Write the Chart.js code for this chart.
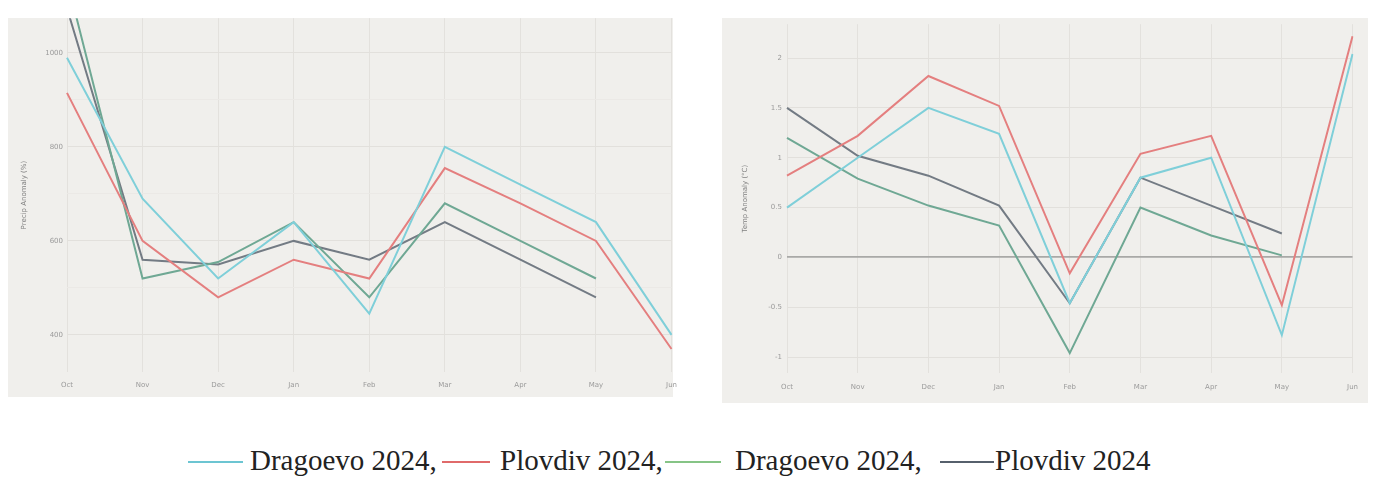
<!DOCTYPE html>
<html>
<head>
<meta charset="utf-8">
<script src="https://cdn.jsdelivr.net/npm/chart.js@4.4.1/dist/chart.umd.min.js"></script>
<style>
  body { margin: 0; background: #fff; width: 1379px; height: 477px; position: relative; overflow: hidden; }
  .panel { position: absolute; background: #f0efec; }
  .panel canvas { position: absolute; left: 0; }
  #left-panel { left: 8px; top: 18px; width: 665px; height: 379px; }
  #right-panel { left: 722px; top: 18px; width: 646px; height: 385px; }
  #precip-chart { top: -8px; }
  #temp-chart { top: -3px; }
  .legend { position: absolute; top: 442px; font-family: "Liberation Serif", serif; font-size: 29px; color: #222; white-space: nowrap; line-height: 36px; }
  .swatch { position: absolute; top: 461px; height: 2px; }
</style>
</head>
<body>
<div class="panel" id="left-panel"><canvas id="precip-chart" width="678" height="387"></canvas></div>
<div class="panel" id="right-panel"><canvas id="temp-chart" width="646" height="388"></canvas></div>

<div class="swatch" style="left:188px;width:55px;background:#6cc5d2"></div>
<div class="legend" style="left:250px">Dragoevo 2024,</div>
<div class="swatch" style="left:442px;width:48px;background:#e06a6a"></div>
<div class="legend" style="left:500px">Plovdiv 2024,</div>
<div class="swatch" style="left:665px;width:56px;background:#86c486"></div>
<div class="legend" style="left:735px">Dragoevo 2024,</div>
<div class="swatch" style="left:940px;width:54px;background:#56606c"></div>
<div class="legend" style="left:995px">Plovdiv 2024</div>

<script>
// Month categories shared by both panels
const months = ['Oct', 'Nov', 'Dec', 'Jan', 'Feb', 'Mar', 'Apr', 'May', 'Jun'];

// Precipitation anomaly (%) - left panel
const precipDragoevo = [990, 690, 520, 640, 445, 800, 720, 640, 400];
const precipPlovdiv = [915, 600, 480, 560, 520, 755, 680, 600, 370];
const precipDragoevo2 = [1155, 520, 555, 640, 480, 680, 600, 520, null];
const precipPlovdiv2 = [1095, 560, 550, 600, 560, 640, 560, 480, null];
const precipTicks = [400, 500, 600, 700, 800, 900, 1000];

// Temperature anomaly (°C) - right panel
const tempDragoevo = [0.5, 1.0, 1.5, 1.24, -0.46, 0.8, 1.0, -0.78, 2.04];
const tempPlovdiv = [0.82, 1.22, 1.82, 1.52, -0.16, 1.04, 1.22, -0.48, 2.22];
const tempDragoevo2 = [1.2, 0.79, 0.52, 0.32, -0.96, 0.5, 0.22, 0.02, null];
const tempPlovdiv2 = [1.5, 1.02, 0.82, 0.52, -0.46, 0.8, 0.52, 0.24, null];
const tempTicks = [-1, -0.5, 0, 0.5, 1, 1.5, 2];

const seriesColors = ['#7fcfd9', '#e47f7f', '#6fa894', '#737b84'];
const tickFont = { family: 'DejaVu Sans', size: 7 };

function makeDatasets(values) {
    return values.map((data, i) => ({
        data: data,
        borderColor: seriesColors[i],
        borderWidth: 2,
        pointRadius: 0,
        tension: 0,
        spanGaps: false,
    }));
}

function makeChart(id, values, yCfg) {
    const ctx = document.getElementById(id).getContext('2d');
    return new Chart(ctx, {
        type: 'line',
        data: { labels: months, datasets: makeDatasets(values) },
        options: {
            responsive: false,
            animation: false,
            layout: { padding: yCfg.padding },
            plugins: { legend: { display: false }, tooltip: { enabled: false } },
            scales: {
                x: {
                    offset: false,
                    grid: { color: '#e3e1dd', drawTicks: false },
                    border: { display: false },
                    ticks: { font: tickFont, color: '#9a9a9a', padding: yCfg.xPad, maxRotation: 0 },
                    afterFit: s => { s.height = yCfg.xHeight; },
                },
                y: {
                    min: yCfg.min,
                    max: yCfg.max,
                    afterBuildTicks: s => { s.ticks = yCfg.ticks.map(v => ({ value: v })); },
                    grid: {
                        drawTicks: false,
                        color: c => yCfg.gridColor(c.tick.value),
                        lineWidth: c => (yCfg.zeroLine && c.tick.value === 0 ? 1.8 : 1),
                    },
                    border: { display: false },
                    ticks: { font: tickFont, color: '#9a9a9a', padding: yCfg.yPad, callback: yCfg.label },
                    title: { display: true, text: yCfg.title, font: tickFont, color: '#808080', padding: { top: yCfg.titlePad, bottom: 0 } },
                    afterFit: s => { s.width = yCfg.yWidth; },
                },
            },
        },
    });
}

// Left: precipitation
makeChart('precip-chart', [precipDragoevo, precipPlovdiv, precipDragoevo2, precipPlovdiv2], {
    min: 321, max: 1074, ticks: precipTicks,
    label: v => (v % 200 === 0 ? v : ''),
    gridColor: v => (v % 200 === 0 ? '#e2e0dc' : '#ebe9e6'),
    title: 'Precip Anomaly (%)', titlePad: 12,
    padding: { left: 0, right: 10, top: 0, bottom: 0 },
    yWidth: 59, yPad: 4, xHeight: 25, xPad: 9,
});

// Right: temperature
makeChart('temp-chart', [tempDragoevo, tempPlovdiv, tempDragoevo2, tempPlovdiv2], {
    min: -1.16, max: 2.34, ticks: tempTicks, zeroLine: true,
    label: v => v,
    gridColor: v => (v === 0 ? '#a9a9a7' : '#e2e0dc'),
    title: 'Temp Anomaly (°C)', titlePad: 19,
    padding: { left: 0, right: 15, top: 0, bottom: 0 },
    yWidth: 65, yPad: 5, xHeight: 30, xPad: 10,
});
</script>
</body>
</html>
